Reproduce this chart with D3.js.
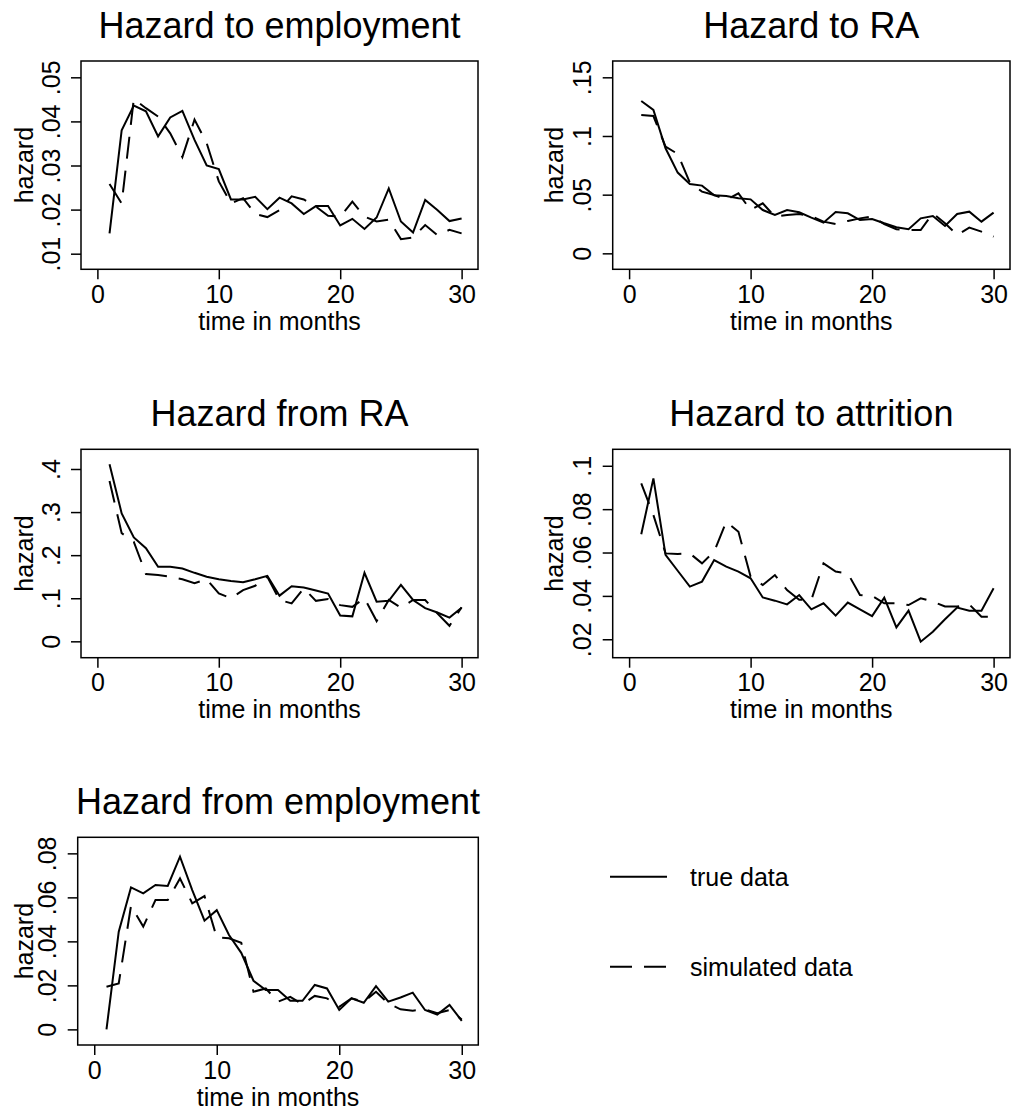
<!DOCTYPE html>
<html>
<head>
<meta charset="utf-8">
<script src="https://cdn.jsdelivr.net/npm/d3@7"></script>
<style>
  html, body { margin: 0; padding: 0; background: #fff; }
  svg text { font-family: "Liberation Sans", Arial, Helvetica, sans-serif; fill: #000; }
</style>
</head>
<body>
<svg id="chart" width="1012" height="1115"></svg>
<script>
// ---------------- data ----------------
const months = d3.range(1, 31);
const xTicks = [0, 10, 20, 30];

const panelTitles = ["Hazard to employment", "Hazard to RA", "Hazard from RA", "Hazard to attrition", "Hazard from employment"];

const toEmpTrue = [0.0146, 0.0380, 0.0436, 0.0423, 0.0366, 0.0409, 0.0424, 0.0358, 0.0300, 0.0292,
                   0.0223, 0.0223, 0.0229, 0.0201, 0.0227, 0.0214, 0.0190, 0.0208, 0.0208, 0.0164,
                   0.0179, 0.0156, 0.0182, 0.0248, 0.0173, 0.0148, 0.0222, 0.0199, 0.0174, 0.0180];
const toEmpSim  = [0.0258, 0.0214, 0.0451, 0.0430, 0.0411, 0.0373, 0.0319, 0.0404, 0.0351, 0.0264,
                   0.0214, 0.0226, 0.0190, 0.0183, 0.0199, 0.0230, 0.0223, 0.0207, 0.0186, 0.0184,
                   0.0218, 0.0184, 0.0173, 0.0177, 0.0133, 0.0137, 0.0165, 0.0142, 0.0154, 0.0146];

const toRATrue = [0.1298, 0.1222, 0.0895, 0.0688, 0.0591, 0.0577, 0.0494, 0.0489, 0.0469, 0.0460,
                  0.0369, 0.0327, 0.0369, 0.0350, 0.0304, 0.0261, 0.0352, 0.0341, 0.0284, 0.0293,
                  0.0256, 0.0222, 0.0205, 0.0298, 0.0318, 0.0233, 0.0335, 0.0355, 0.0270, 0.0347];
const toRASim  = [0.1179, 0.1170, 0.0909, 0.0847, 0.0602, 0.0526, 0.0497, 0.0455, 0.0511, 0.0369,
                  0.0426, 0.0313, 0.0327, 0.0335, 0.0318, 0.0270, 0.0250, 0.0276, 0.0298, 0.0313,
                  0.0250, 0.0205, 0.0199, 0.0199, 0.0341, 0.0256, 0.0156, 0.0219, 0.0185, 0.0142];

const fromRATrue = [0.411, 0.297, 0.241, 0.216, 0.173, 0.173, 0.169, 0.159, 0.150, 0.144,
                    0.140, 0.137, 0.144, 0.152, 0.106, 0.128, 0.125, 0.118, 0.111, 0.060,
                    0.058, 0.159, 0.092, 0.094, 0.131, 0.096, 0.077, 0.067, 0.055, 0.078];
const fromRASim  = [0.372, 0.251, 0.231, 0.156, 0.154, 0.150, 0.144, 0.135, 0.144, 0.111,
                    0.100, 0.119, 0.129, 0.150, 0.096, 0.088, 0.123, 0.094, 0.098, 0.084,
                    0.080, 0.100, 0.047, 0.096, 0.078, 0.096, 0.096, 0.065, 0.036, 0.079];

const attrTrue = [0.0684, 0.0942, 0.0589, 0.0516, 0.0443, 0.0466, 0.0565, 0.0535, 0.0512, 0.0481,
                  0.0393, 0.0378, 0.0361, 0.0404, 0.0338, 0.0366, 0.0309, 0.0369, 0.0338, 0.0307,
                  0.0392, 0.0255, 0.0332, 0.0189, 0.0235, 0.0292, 0.0346, 0.0332, 0.0332, 0.0435];
const attrSim  = [0.0919, 0.0773, 0.0596, 0.0593, 0.0596, 0.0550, 0.0604, 0.0742, 0.0696, 0.0489,
                  0.0450, 0.0496, 0.0427, 0.0382, 0.0382, 0.0550, 0.0512, 0.0504, 0.0404, 0.0400,
                  0.0366, 0.0366, 0.0358, 0.0389, 0.0374, 0.0351, 0.0351, 0.0361, 0.0304, 0.0304];

const fromEmpTrue = [0.0000, 0.0444, 0.0645, 0.0618, 0.0656, 0.0652, 0.0785, 0.0633, 0.0494, 0.0542,
                     0.0429, 0.0348, 0.0221, 0.0179, 0.0179, 0.0130, 0.0130, 0.0202, 0.0186, 0.0088,
                     0.0141, 0.0121, 0.0197, 0.0126, 0.0145, 0.0167, 0.0088, 0.0067, 0.0111, 0.0039];
const fromEmpSim  = [0.0194, 0.0209, 0.0561, 0.0467, 0.0588, 0.0588, 0.0686, 0.0573, 0.0606, 0.0418,
                     0.0414, 0.0394, 0.0171, 0.0186, 0.0126, 0.0148, 0.0114, 0.0152, 0.0141, 0.0103,
                     0.0141, 0.0126, 0.0171, 0.0118, 0.0091, 0.0085, 0.0091, 0.0073, 0.0088, 0.0045];

const yTicks1 = [0.01, 0.02, 0.03, 0.04, 0.05];   const yLabels1 = [".01", ".02", ".03", ".04", ".05"];
const yTicks2 = [0, 0.05, 0.10, 0.15];            const yLabels2 = ["0", ".05", ".1", ".15"];
const yTicks3 = [0, 0.1, 0.2, 0.3, 0.4];          const yLabels3 = ["0", ".1", ".2", ".3", ".4"];
const yTicks4 = [0.02, 0.04, 0.06, 0.08, 0.10];   const yLabels4 = [".02", ".04", ".06", ".08", ".1"];
const yTicks5 = [0, 0.02, 0.04, 0.06, 0.08];      const yLabels5 = ["0", ".02", ".04", ".06", ".08"];

const legendLabels = ["true data", "simulated data"];

// ---------------- layout ----------------
const panels = [
  { title: panelTitles[0], t: toEmpTrue,   s: toEmpSim,   yt: yTicks1, yl: yLabels1, yd: [0.00646, 0.0537], box: [81, 61, 478, 269.3],    hx: 33 },
  { title: panelTitles[1], t: toRATrue,    s: toRASim,    yt: yTicks2, yl: yLabels2, yd: [-0.0136, 0.1639], box: [612.7, 61, 1010, 269.3], hx: 563 },
  { title: panelTitles[2], t: fromRATrue,  s: fromRASim,  yt: yTicks3, yl: yLabels3, yd: [-0.038, 0.4457],  box: [81, 449.3, 478, 657.7],  hx: 33 },
  { title: panelTitles[3], t: attrTrue,    s: attrSim,    yt: yTicks4, yl: yLabels4, yd: [0.0115, 0.1076],  box: [612.7, 449.3, 1010, 657.7], hx: 563 },
  { title: panelTitles[4], t: fromEmpTrue, s: fromEmpSim, yt: yTicks5, yl: yLabels5, yd: [-0.0071, 0.0873], box: [77.7, 837.3, 478.3, 1045], hx: 33 }
];

const svg = d3.select("#chart");
const DASH = "22,12";

panels.forEach(p => {
  const [L, T, R, B] = p.box;
  const x = d3.scaleLinear().domain([-1.35, 31.35]).range([L, R]);
  const y = d3.scaleLinear().domain(p.yd).range([B, T]);
  const g = svg.append("g");

  // title
  g.append("text").attr("x", (L + R) / 2).attr("y", T - 23)
    .attr("text-anchor", "middle").attr("font-size", 36).text(p.title);

  // frame
  g.append("rect").attr("x", L).attr("y", T).attr("width", R - L).attr("height", B - T)
    .attr("fill", "none").attr("stroke", "#000").attr("stroke-width", 1.5);

  // x axis
  const xa = g.append("g").attr("transform", `translate(0,${B})`)
    .call(d3.axisBottom(x).tickValues(xTicks).tickFormat(d3.format("d")).tickSize(10));
  xa.select(".domain").remove();
  xa.selectAll(".tick line").attr("stroke", "#000").attr("stroke-width", 1.5);
  xa.selectAll(".tick text").attr("y", 33.5).attr("dy", 0).attr("font-size", 25)
    .style("font-family", '"Liberation Sans", Arial, sans-serif').attr("fill", "#000");

  // y axis
  const ya = g.append("g").attr("transform", `translate(${L},0)`)
    .call(d3.axisLeft(y).tickValues(p.yt).tickFormat((d, i) => p.yl[i]).tickSize(10));
  ya.select(".domain").remove();
  ya.selectAll(".tick line").attr("stroke", "#000").attr("stroke-width", 1.5);
  ya.selectAll(".tick text").attr("x", null).attr("dy", 0)
    .attr("transform", "translate(-21.5,0) rotate(-90)")
    .attr("text-anchor", "middle").attr("font-size", 25)
    .style("font-family", '"Liberation Sans", Arial, sans-serif').attr("fill", "#000");

  // axis titles
  g.append("text").attr("x", (L + R) / 2).attr("y", B + 60.5)
    .attr("text-anchor", "middle").attr("font-size", 25).text("time in months");
  g.append("text").attr("transform", `translate(${p.hx},${(T + B) / 2}) rotate(-90)`)
    .attr("text-anchor", "middle").attr("font-size", 25).text("hazard");

  // lines
  const line = d3.line().x((d, i) => x(months[i])).y(d => y(d));
  g.append("path").datum(p.t).attr("d", line)
    .attr("fill", "none").attr("stroke", "#000").attr("stroke-width", 2).attr("stroke-linejoin", "miter");
  g.append("path").datum(p.s).attr("d", line)
    .attr("fill", "none").attr("stroke", "#000").attr("stroke-width", 2)
    .attr("stroke-dasharray", DASH);
});

// legend
const lg = svg.append("g");
[0, 1].forEach(i => {
  const ly = i === 0 ? 876.7 : 966.7;
  lg.append("line").attr("x1", 610).attr("x2", 667).attr("y1", ly).attr("y2", ly)
    .attr("stroke", "#000").attr("stroke-width", 2)
    .attr("stroke-dasharray", i === 0 ? null : DASH);
  lg.append("text").attr("x", 690).attr("y", ly + 9.5).attr("font-size", 25).text(legendLabels[i]);
});
</script>
</body>
</html>
